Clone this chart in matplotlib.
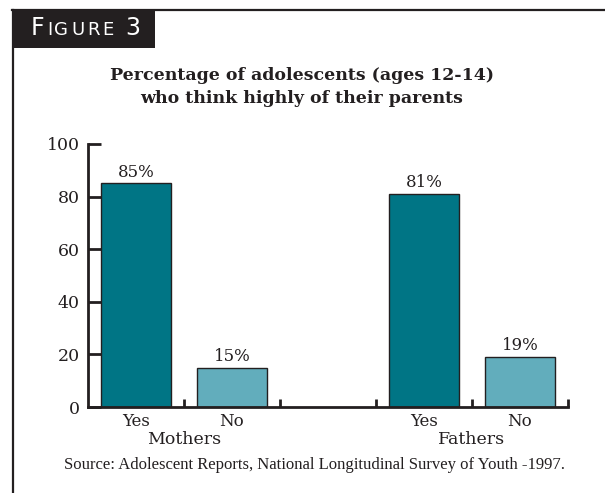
import matplotlib.pyplot as plt
from matplotlib.patches import Rectangle
from matplotlib.transforms import blended_transform_factory

# data
slots = [0.5, 1.5, 3.5, 4.5]
answers = ['Yes', 'No', 'Yes', 'No']
percents = [85, 15, 81, 19]
groups = ['Mothers', 'Fathers']
group_pos = [1, 4]
yticks = [0, 20, 40, 60, 80, 100]

W, H = 605, 493
DARK = '#007585'
LIGHT = '#62adbc'
INK = '#231f20'
SERIF = 'DejaVu Serif'


def px(x, y):
    # pixel coords (top-left origin) -> figure fraction
    return x / W, 1 - y / H


fig = plt.figure(figsize=(W / 100, H / 100), dpi=100)

# frame: top rule, left rule, black label box
fig.add_artist(plt.Line2D([12 / W, 1], [px(0, 10)[1]] * 2, color=INK, lw=1.6))
fig.add_artist(plt.Line2D([13 / W] * 2, [px(0, 10)[1], 0], color=INK, lw=1.6))
fig.add_artist(Rectangle(px(12, 48), 143 / W, 38 / H, color=INK, lw=0))

# "FIGURE 3" in small caps, letter by letter
yb = px(0, 35)[1]
letters = [('F', 31, 17), ('I', 47, 13), ('G', 54, 13), ('U', 71, 13),
           ('R', 87, 13), ('E', 102, 13), ('3', 125, 17)]
for ch, xl, fs in letters:
    fig.text(xl / W, yb, ch, color='white', fontsize=fs,
             family='DejaVu Sans', va='baseline', ha='left')

# title
fig.text(px(302, 0)[0], px(0, 87)[1],
         'Percentage of adolescents (ages 12-14)\nwho think highly of their parents',
         ha='center', va='center', fontsize=12.5, fontweight='bold',
         family=SERIF, color=INK, linespacing=1.45)

# axes
ax = fig.add_axes([88 / W, 86 / H, 480 / W, 263 / H])
colors = [DARK, LIGHT, DARK, LIGHT]
bars = ax.bar(slots, percents, width=0.72, color=colors, edgecolor=INK,
              linewidth=1.0, zorder=2)
for b, v in zip(bars, percents):
    ax.annotate(f'{v}%', (b.get_x() + b.get_width() / 2, v),
                xytext=(0, 2), textcoords='offset points', ha='center',
                va='bottom', fontsize=12, family=SERIF, color=INK)

ax.set_xlim(0, 5)
ax.set_ylim(0, 100)
for s in ['top', 'right']:
    ax.spines[s].set_visible(False)
for s in ['left', 'bottom']:
    ax.spines[s].set_linewidth(2)
    ax.spines[s].set_color(INK)

ax.set_yticks(yticks)
ax.tick_params(axis='y', direction='in', length=9, width=2, color=INK,
               labelsize=12.5, labelcolor=INK, pad=6)
ax.set_xticks([1, 2, 3, 4, 5])
ax.set_xticklabels([])
ax.tick_params(axis='x', which='major', direction='in', length=6, width=2,
               color=INK)
ax.set_xticks(slots, minor=True)
ax.set_xticklabels(answers, minor=True, fontsize=12, family=SERIF, color=INK)
ax.tick_params(axis='x', which='minor', length=0, pad=4)
for lab in ax.get_yticklabels():
    lab.set_family(SERIF)

trans = blended_transform_factory(ax.transData, fig.transFigure)
for g, xp in zip(groups, group_pos):
    ax.text(xp, px(0, 439)[1], g, transform=trans, ha='center', va='center',
            fontsize=12.5, family=SERIF, color=INK)

# source
fig.text(px(314, 0)[0], px(0, 465)[1],
         'Source: Adolescent Reports, National Longitudinal Survey of Youth -1997.',
         ha='center', va='center', fontsize=12, family='Liberation Serif',
         color=INK)

fig.savefig('out.png', dpi=100)
